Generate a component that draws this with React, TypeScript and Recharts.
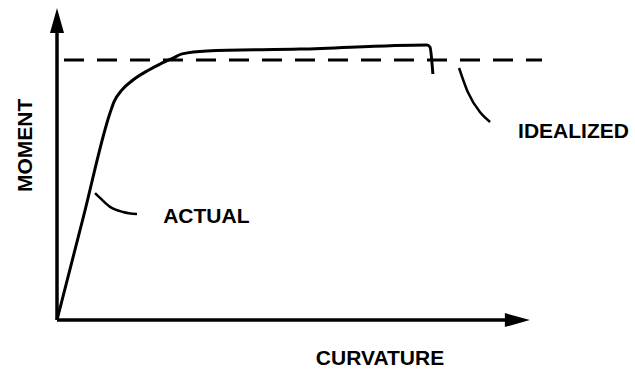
import React from 'react';
import { ComposedChart, Line, XAxis, YAxis, ReferenceLine, ReferenceDot } from 'recharts';

// Moment–curvature diagram (schematic units 0..100)
const actualCurve = [
  { x: 0, y: 0 },
  { x: 5.46, y: 34.5 },
  { x: 10.93, y: 69.0 },
  { x: 11.75, y: 72.7 },
  { x: 13.4, y: 76.7 },
  { x: 15.67, y: 80.0 },
  { x: 18.56, y: 83.0 },
  { x: 21.24, y: 85.3 },
  { x: 23.9, y: 87.3 },
  { x: 25.8, y: 88.7 },
  { x: 30.9, y: 89.7 },
  { x: 50.1, y: 90.3 },
  { x: 76.3, y: 91.7 },
  { x: 76.9, y: 91.0 },
  { x: 77.5, y: 82.0 },
];

const idealizedLine = [
  { x: 1.44, y: 86.7 },
  { x: 100, y: 86.7 },
];

const idealizedLeader = [
  { x: 82.9, y: 84.0 },
  { x: 84.7, y: 76.0 },
  { x: 87.2, y: 69.3 },
  { x: 89.3, y: 66.0 },
];

const actualLeader = [
  { x: 7.84, y: 42.3 },
  { x: 8.87, y: 40.7 },
  { x: 10.93, y: 37.7 },
  { x: 13.6, y: 36.0 },
  { x: 16.5, y: 35.3 },
];

const xAxisTitle = 'CURVATURE';
const yAxisTitle = 'MOMENT';
const actualLabel = 'ACTUAL';
const idealizedLabel = 'IDEALIZED';

const FONT = '"Liberation Sans", Arial, sans-serif';

const Arrow = (props: any) => {
  const { x1, y1, x2, y2 } = props;
  const dx = x2 - x1;
  const dy = y2 - y1;
  const len = Math.sqrt(dx * dx + dy * dy) || 1;
  const ux = dx / len;
  const uy = dy / len;
  const head = 25;
  const half = 7;
  const bx = x2 - ux * head;
  const by = y2 - uy * head;
  const px = -uy;
  const py = ux;
  return (
    <g>
      <line x1={x1} y1={y1} x2={x2 - ux * 10} y2={y2 - uy * 10} stroke="#000" strokeWidth={3.5} />
      <polygon
        points={`${x2},${y2} ${bx + px * half},${by + py * half} ${bx - px * half},${by - py * half}`}
        fill="#000"
      />
    </g>
  );
};

const makeText = (text: string, anchor: string, rotate?: boolean) => (p: any) => (
  <text
    x={p.cx}
    y={p.cy}
    textAnchor={anchor}
    fontFamily={FONT}
    fontWeight="bold"
    fontSize={21}
    fill="#000"
    transform={rotate ? `rotate(-90, ${p.cx}, ${p.cy})` : undefined}
  >
    {text}
  </text>
);

export default function App() {
  return (
    <div style={{ position: 'absolute', left: 0, top: 0, background: '#fff' }}>
      <ComposedChart
        width={635}
        height={376}
        margin={{ top: 20, right: 93, bottom: 56, left: 57 }}
      >
        <XAxis type="number" dataKey="x" domain={[0, 100]} hide />
        <YAxis type="number" dataKey="y" domain={[0, 100]} hide />
        <ReferenceLine
          segment={[{ x: 0, y: 0 }, { x: 97.5, y: 0 }]}
          ifOverflow="visible"
          shape={Arrow}
        />
        <ReferenceLine
          segment={[{ x: 0, y: 0 }, { x: 0, y: 104 }]}
          ifOverflow="visible"
          shape={Arrow}
        />
        <Line
          data={idealizedLine}
          dataKey="y"
          type="linear"
          stroke="#000"
          strokeWidth={3}
          strokeDasharray="20 13"
          dot={false}
          isAnimationActive={false}
        />
        <Line
          data={actualCurve}
          dataKey="y"
          type="monotone"
          stroke="#000"
          strokeWidth={3}
          dot={false}
          isAnimationActive={false}
        />
        <Line
          data={idealizedLeader}
          dataKey="y"
          type="monotone"
          stroke="#000"
          strokeWidth={2.5}
          dot={false}
          isAnimationActive={false}
        />
        <Line
          data={actualLeader}
          dataKey="y"
          type="monotone"
          stroke="#000"
          strokeWidth={2.5}
          dot={false}
          isAnimationActive={false}
        />
        <ReferenceDot x={66.6} y={-15} r={0} ifOverflow="visible" shape={makeText(xAxisTitle, 'middle')} />
        <ReferenceDot x={-5.15} y={58.2} r={0} ifOverflow="visible" shape={makeText(yAxisTitle, 'middle', true)} />
        <ReferenceDot x={30.8} y={32.3} r={0} ifOverflow="visible" shape={makeText(actualLabel, 'middle')} />
        <ReferenceDot x={106.5} y={60.7} r={0} ifOverflow="visible" shape={makeText(idealizedLabel, 'middle')} />
      </ComposedChart>
    </div>
  );
}
